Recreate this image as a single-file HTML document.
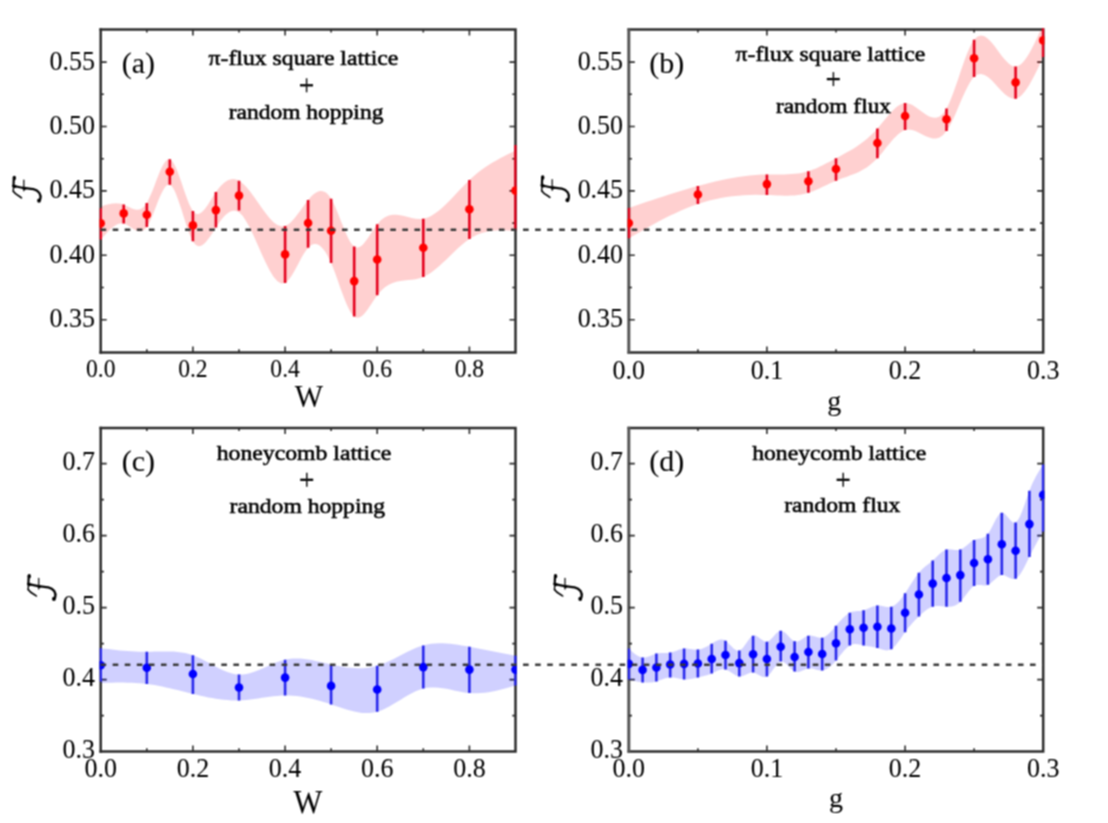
<!DOCTYPE html>
<html><head><meta charset="utf-8"><style>
html,body{margin:0;padding:0;background:#fff;}
body{width:1108px;height:823px;overflow:hidden;font-family:"Liberation Serif",serif;}
svg{display:block;} 
</style></head><body>
<div id="w"><svg width="1108" height="823" viewBox="0 0 1108 823"><defs><filter id="soft" filterUnits="userSpaceOnUse" x="0" y="0" width="1108" height="823" color-interpolation-filters="sRGB"><feConvolveMatrix order="3" kernelMatrix="0.0676 0.1248 0.0676 0.1248 0.2304 0.1248 0.0676 0.1248 0.0676" edgeMode="duplicate"/></filter></defs><g filter="url(#soft)"><defs><clipPath id="clipa"><rect x="100.7" y="29.4" width="414.8" height="323.0"/></clipPath><clipPath id="clipxa"><rect x="99.5" y="28.2" width="417.2" height="325.4"/></clipPath><clipPath id="clipb"><rect x="628.8" y="29.4" width="414.4000000000001" height="323.0"/></clipPath><clipPath id="clipxb"><rect x="627.5999999999999" y="28.2" width="416.80000000000007" height="325.4"/></clipPath><clipPath id="clipc"><rect x="100.7" y="427.9" width="414.8" height="323.6"/></clipPath><clipPath id="clipxc"><rect x="99.5" y="426.7" width="417.2" height="326.0"/></clipPath><clipPath id="clipd"><rect x="628.8" y="427.9" width="414.4000000000001" height="323.6"/></clipPath><clipPath id="clipxd"><rect x="627.5999999999999" y="426.7" width="416.80000000000007" height="326.0"/></clipPath></defs><rect width="1108" height="823" fill="#fff"/><path d="M99.45,29.4H516.75M515.5,29.4V352.4M516.75,352.4H99.45" fill="none" stroke="#2c2c2c" stroke-width="2.5"/><path d="M100.7,28.15V353.65" fill="none" stroke="#2c2c2c" stroke-width="2.5"/><path d="M100.7,319.7h6M515.5,319.7h-6M100.7,255.3h6M515.5,255.3h-6M100.7,190.9h6M515.5,190.9h-6M100.7,126.5h6M515.5,126.5h-6M100.7,62.1h6M515.5,62.1h-6M100.7,287.5h3.2M515.5,287.5h-3.2M100.7,223.1h3.2M515.5,223.1h-3.2M100.7,158.7h3.2M515.5,158.7h-3.2M100.7,94.3h3.2M515.5,94.3h-3.2M192.9,352.4v-6M192.9,29.4v6M285.1,352.4v-6M285.1,29.4v6M377.2,352.4v-6M377.2,29.4v6M469.4,352.4v-6M469.4,29.4v6M146.8,352.4v-3.2M146.8,29.4v3.2M239.0,352.4v-3.2M239.0,29.4v3.2M331.1,352.4v-3.2M331.1,29.4v3.2M423.3,352.4v-3.2M423.3,29.4v3.2" stroke="#2c2c2c" stroke-width="1.6" fill="none"/><path d="M627.55,29.4H1044.45M1043.2,29.4V352.4M1044.45,352.4H627.55" fill="none" stroke="#2c2c2c" stroke-width="2.5"/><path d="M628.8,28.15V353.65" fill="none" stroke="#555" stroke-width="3.0"/><path d="M628.8,319.7h6M1043.2,319.7h-6M628.8,255.3h6M1043.2,255.3h-6M628.8,190.9h6M1043.2,190.9h-6M628.8,126.5h6M1043.2,126.5h-6M628.8,62.1h6M1043.2,62.1h-6M628.8,287.5h3.2M1043.2,287.5h-3.2M628.8,223.1h3.2M1043.2,223.1h-3.2M628.8,158.7h3.2M1043.2,158.7h-3.2M628.8,94.3h3.2M1043.2,94.3h-3.2M766.9,352.4v-6M766.9,29.4v6M905.1,352.4v-6M905.1,29.4v6M697.9,352.4v-3.2M697.9,29.4v3.2M836.0,352.4v-3.2M836.0,29.4v3.2M974.1,352.4v-3.2M974.1,29.4v3.2" stroke="#2c2c2c" stroke-width="1.6" fill="none"/><path d="M99.45,427.9H516.75M515.5,427.9V751.5M516.75,751.5H99.45" fill="none" stroke="#2c2c2c" stroke-width="2.5"/><path d="M100.7,426.65V752.75" fill="none" stroke="#2c2c2c" stroke-width="2.5"/><path d="M100.7,679.6h6M515.5,679.6h-6M100.7,607.6h6M515.5,607.6h-6M100.7,535.6h6M515.5,535.6h-6M100.7,463.6h6M515.5,463.6h-6M100.7,715.6h3.2M515.5,715.6h-3.2M100.7,643.6h3.2M515.5,643.6h-3.2M100.7,571.6h3.2M515.5,571.6h-3.2M100.7,499.6h3.2M515.5,499.6h-3.2M192.9,751.5v-6M192.9,427.9v6M285.1,751.5v-6M285.1,427.9v6M377.2,751.5v-6M377.2,427.9v6M469.4,751.5v-6M469.4,427.9v6M146.8,751.5v-3.2M146.8,427.9v3.2M239.0,751.5v-3.2M239.0,427.9v3.2M331.1,751.5v-3.2M331.1,427.9v3.2M423.3,751.5v-3.2M423.3,427.9v3.2" stroke="#2c2c2c" stroke-width="1.6" fill="none"/><path d="M627.55,427.9H1044.45M1043.2,427.9V751.5M1044.45,751.5H627.55" fill="none" stroke="#2c2c2c" stroke-width="2.5"/><path d="M628.8,426.65V752.75" fill="none" stroke="#555" stroke-width="3.0"/><path d="M628.8,679.6h6M1043.2,679.6h-6M628.8,607.6h6M1043.2,607.6h-6M628.8,535.6h6M1043.2,535.6h-6M628.8,463.6h6M1043.2,463.6h-6M628.8,715.6h3.2M1043.2,715.6h-3.2M628.8,643.6h3.2M1043.2,643.6h-3.2M628.8,571.6h3.2M1043.2,571.6h-3.2M628.8,499.6h3.2M1043.2,499.6h-3.2M766.9,751.5v-6M766.9,427.9v6M905.1,751.5v-6M905.1,427.9v6M697.9,751.5v-3.2M697.9,427.9v3.2M836.0,751.5v-3.2M836.0,427.9v3.2M974.1,751.5v-3.2M974.1,427.9v3.2" stroke="#2c2c2c" stroke-width="1.6" fill="none"/><path clip-path="url(#clipa)" d="M100.7,206.5 L102.6,205.9 L104.5,205.3 L106.5,204.8 L108.4,204.3 L110.3,203.9 L112.2,203.6 L114.1,203.4 L116.1,203.3 L118.0,203.4 L119.9,203.6 L121.8,204.0 L123.7,204.6 L125.7,205.4 L127.6,206.4 L129.5,207.3 L131.4,208.3 L133.3,209.0 L135.3,209.6 L137.2,209.8 L139.1,209.6 L141.0,208.9 L142.9,207.6 L144.9,205.7 L146.8,202.9 L148.7,199.3 L150.6,195.1 L152.6,190.4 L154.5,185.4 L156.4,180.3 L158.3,175.4 L160.2,170.7 L162.2,166.6 L164.1,163.2 L166.0,160.7 L167.9,159.4 L169.8,159.3 L171.8,160.7 L173.7,163.3 L175.6,167.0 L177.5,171.5 L179.4,176.7 L181.4,182.2 L183.3,187.9 L185.2,193.5 L187.1,198.8 L189.0,203.7 L191.0,207.8 L192.9,210.9 L194.8,212.9 L196.7,213.9 L198.6,213.9 L200.6,213.1 L202.5,211.6 L204.4,209.5 L206.3,207.0 L208.2,204.2 L210.2,201.1 L212.1,198.0 L214.0,194.9 L215.9,192.0 L217.8,189.4 L219.8,187.0 L221.7,184.9 L223.6,183.2 L225.5,181.7 L227.4,180.6 L229.4,179.8 L231.3,179.3 L233.2,179.1 L235.1,179.3 L237.0,179.8 L239.0,180.7 L242.8,183.4 L246.6,187.3 L250.5,192.0 L254.3,197.2 L258.2,202.8 L262.0,208.3 L265.9,213.6 L269.7,218.3 L273.5,222.2 L277.4,224.9 L281.2,226.3 L285.1,226.0 L287.0,225.1 L288.9,223.9 L290.8,222.2 L292.7,220.2 L294.7,218.0 L296.6,215.6 L298.5,213.0 L300.4,210.4 L302.3,207.7 L304.3,205.0 L306.2,202.4 L308.1,200.0 L310.0,197.8 L311.9,195.8 L313.9,194.1 L315.8,192.7 L317.7,191.7 L319.6,191.1 L321.5,191.0 L323.5,191.4 L325.4,192.3 L327.3,193.8 L329.2,195.9 L331.1,198.7 L333.1,202.2 L335.0,206.2 L336.9,210.7 L338.8,215.5 L340.7,220.4 L342.7,225.3 L344.6,230.0 L346.5,234.5 L348.4,238.5 L350.3,242.0 L352.3,244.7 L354.2,246.6 L356.1,247.5 L358.0,247.6 L360.0,246.8 L361.9,245.4 L363.8,243.5 L365.7,241.1 L367.6,238.4 L369.6,235.5 L371.5,232.5 L373.4,229.6 L375.3,226.8 L377.2,224.2 L381.1,220.1 L384.9,217.3 L388.8,215.6 L392.6,214.8 L396.4,214.8 L400.3,215.3 L404.1,216.1 L408.0,217.0 L411.8,218.0 L415.6,218.7 L419.5,219.0 L423.3,218.7 L427.2,217.7 L431.0,215.9 L434.8,213.6 L438.7,210.7 L442.5,207.4 L446.4,203.8 L450.2,199.9 L454.0,195.9 L457.9,191.8 L461.7,187.7 L465.6,183.8 L469.4,180.0 L473.3,176.5 L477.1,173.3 L480.9,170.3 L484.8,167.6 L488.6,165.0 L492.5,162.6 L496.3,160.4 L500.1,158.3 L504.0,156.2 L507.8,154.3 L511.7,152.4 L515.5,150.5 L515.5,231.0 L511.7,230.7 L507.8,230.5 L504.0,230.4 L500.1,230.3 L496.3,230.5 L492.5,230.8 L488.6,231.3 L484.8,232.2 L480.9,233.3 L477.1,234.8 L473.3,236.7 L469.4,239.0 L465.6,241.8 L461.7,244.9 L457.9,248.3 L454.0,251.9 L450.2,255.7 L446.4,259.4 L442.5,263.0 L438.7,266.5 L434.8,269.8 L431.0,272.7 L427.2,275.1 L423.3,277.0 L419.5,278.3 L415.6,279.2 L411.8,279.7 L408.0,280.1 L404.1,280.4 L400.3,280.9 L396.4,281.7 L392.6,282.9 L388.8,284.7 L384.9,287.3 L381.1,290.7 L377.2,295.2 L375.3,297.9 L373.4,300.7 L371.5,303.7 L369.6,306.6 L367.6,309.4 L365.7,311.9 L363.8,314.2 L361.9,315.9 L360.0,317.2 L358.0,317.7 L356.1,317.6 L354.2,316.5 L352.3,314.5 L350.3,311.7 L348.4,308.1 L346.5,303.9 L344.6,299.2 L342.7,294.2 L340.7,288.9 L338.8,283.5 L336.9,278.1 L335.0,272.8 L333.1,267.8 L331.1,263.1 L329.2,258.9 L327.3,255.2 L325.4,252.0 L323.5,249.4 L321.5,247.2 L319.6,245.6 L317.7,244.6 L315.8,244.1 L313.9,244.1 L311.9,244.8 L310.0,246.0 L308.1,247.8 L306.2,250.2 L304.3,253.1 L302.3,256.3 L300.4,259.8 L298.5,263.4 L296.6,267.1 L294.7,270.6 L292.7,274.0 L290.8,277.0 L288.9,279.6 L287.0,281.6 L285.1,283.0 L281.2,283.5 L277.4,281.3 L273.5,276.8 L269.7,270.6 L265.9,263.1 L262.0,254.7 L258.2,245.9 L254.3,237.2 L250.5,229.1 L246.6,221.9 L242.8,216.1 L239.0,212.3 L237.0,211.2 L235.1,210.7 L233.2,210.7 L231.3,211.2 L229.4,212.1 L227.4,213.4 L225.5,215.0 L223.6,217.0 L221.7,219.3 L219.8,221.8 L217.8,224.5 L215.9,227.4 L214.0,230.4 L212.1,233.4 L210.2,236.4 L208.2,239.1 L206.3,241.6 L204.4,243.6 L202.5,245.1 L200.6,246.0 L198.6,246.2 L196.7,245.6 L194.8,244.0 L192.9,241.3 L191.0,237.5 L189.0,232.9 L187.1,227.5 L185.2,221.6 L183.3,215.5 L181.4,209.3 L179.4,203.4 L177.5,197.9 L175.6,193.0 L173.7,189.1 L171.8,186.2 L169.8,184.7 L167.9,184.7 L166.0,186.0 L164.1,188.5 L162.2,191.9 L160.2,196.0 L158.3,200.6 L156.4,205.5 L154.5,210.5 L152.6,215.3 L150.6,219.9 L148.7,223.8 L146.8,227.0 L144.9,229.3 L142.9,230.7 L141.0,231.3 L139.1,231.4 L137.2,230.9 L135.3,230.1 L133.3,229.0 L131.4,227.7 L129.5,226.4 L127.6,225.2 L125.7,224.3 L123.7,223.6 L121.8,223.4 L119.9,223.6 L118.0,224.1 L116.1,225.0 L114.1,226.2 L112.2,227.7 L110.3,229.3 L108.4,231.2 L106.5,233.2 L104.5,235.4 L102.6,237.6 L100.7,239.8 Z" fill="#FF0000" fill-opacity="0.185"/><path clip-path="url(#clipb)" d="M628.8,208.0 L634.6,206.0 L640.3,204.1 L646.1,202.1 L651.8,200.2 L657.6,198.2 L663.3,196.4 L669.1,194.5 L674.8,192.7 L680.6,190.9 L686.4,189.2 L692.1,187.5 L697.9,185.9 L703.6,184.4 L709.4,182.9 L715.1,181.5 L720.9,180.2 L726.6,179.0 L732.4,177.9 L738.2,177.0 L743.9,176.2 L749.7,175.5 L755.4,175.0 L761.2,174.6 L766.9,174.4 L770.4,174.4 L773.8,174.4 L777.3,174.4 L780.7,174.4 L784.2,174.4 L787.7,174.3 L791.1,174.1 L794.6,173.8 L798.0,173.4 L801.5,172.9 L804.9,172.1 L808.4,171.2 L810.7,170.4 L813.0,169.6 L815.3,168.7 L817.6,167.7 L819.9,166.6 L822.2,165.5 L824.5,164.3 L826.8,163.1 L829.1,161.9 L831.4,160.7 L833.7,159.4 L836.0,158.2 L839.5,156.4 L842.9,154.5 L846.4,152.6 L849.8,150.7 L853.3,148.7 L856.7,146.5 L860.2,144.1 L863.6,141.5 L867.1,138.7 L870.5,135.6 L874.0,132.2 L877.4,128.5 L879.7,125.8 L882.0,123.0 L884.3,120.2 L886.6,117.4 L889.0,114.6 L891.3,112.0 L893.6,109.7 L895.9,107.5 L898.2,105.8 L900.5,104.4 L902.8,103.4 L905.1,103.0 L908.5,103.4 L912.0,104.8 L915.4,106.9 L918.9,109.4 L922.3,112.0 L925.8,114.5 L929.2,116.4 L932.7,117.6 L936.1,117.7 L939.6,116.4 L943.1,113.4 L946.5,108.4 L948.8,103.9 L951.1,98.5 L953.4,92.6 L955.7,86.1 L958.0,79.4 L960.3,72.5 L962.6,65.8 L964.9,59.3 L967.2,53.3 L969.5,47.9 L971.8,43.3 L974.1,39.7 L977.6,36.4 L981.0,35.4 L984.5,36.3 L987.9,38.8 L991.4,42.3 L994.9,46.6 L998.3,51.3 L1001.8,55.9 L1005.2,60.1 L1008.7,63.6 L1012.1,65.9 L1015.6,66.6 L1017.9,66.1 L1020.2,64.8 L1022.5,62.7 L1024.8,60.0 L1027.1,56.8 L1029.4,53.0 L1031.7,48.8 L1034.0,44.3 L1036.3,39.5 L1038.6,34.4 L1040.9,29.3 L1043.2,24.0 L1043.2,57.0 L1040.9,62.0 L1038.6,66.9 L1036.3,71.7 L1034.0,76.3 L1031.7,80.6 L1029.4,84.7 L1027.1,88.3 L1024.8,91.5 L1022.5,94.2 L1020.2,96.4 L1017.9,97.9 L1015.6,98.7 L1012.1,98.6 L1008.7,97.1 L1005.2,94.5 L1001.8,91.2 L998.3,87.5 L994.9,83.7 L991.4,80.1 L987.9,77.0 L984.5,74.9 L981.0,73.9 L977.6,74.5 L974.1,76.9 L971.8,79.6 L969.5,83.2 L967.2,87.4 L964.9,92.2 L962.6,97.3 L960.3,102.6 L958.0,108.0 L955.7,113.4 L953.4,118.5 L951.1,123.3 L948.8,127.5 L946.5,131.1 L943.1,135.0 L939.6,137.4 L936.1,138.4 L932.7,138.4 L929.2,137.6 L925.8,136.2 L922.3,134.5 L918.9,132.7 L915.4,131.1 L912.0,130.0 L908.5,129.5 L905.1,130.0 L902.8,131.0 L900.5,132.4 L898.2,134.2 L895.9,136.4 L893.6,138.8 L891.3,141.4 L889.0,144.2 L886.6,147.1 L884.3,150.0 L882.0,152.9 L879.7,155.6 L877.4,158.2 L874.0,161.6 L870.5,164.6 L867.1,167.2 L863.6,169.3 L860.2,171.2 L856.7,172.9 L853.3,174.3 L849.8,175.6 L846.4,176.9 L842.9,178.1 L839.5,179.3 L836.0,180.7 L833.7,181.7 L831.4,182.7 L829.1,183.8 L826.8,184.9 L824.5,186.0 L822.2,187.1 L819.9,188.2 L817.6,189.2 L815.3,190.2 L813.0,191.2 L810.7,192.0 L808.4,192.8 L804.9,193.8 L801.5,194.5 L798.0,195.0 L794.6,195.4 L791.1,195.6 L787.7,195.7 L784.2,195.7 L780.7,195.6 L777.3,195.5 L773.8,195.3 L770.4,195.1 L766.9,195.0 L761.2,194.9 L755.4,194.8 L749.7,195.0 L743.9,195.2 L738.2,195.7 L732.4,196.3 L726.6,197.1 L720.9,198.1 L715.1,199.2 L709.4,200.6 L703.6,202.2 L697.9,204.0 L692.1,206.0 L686.4,208.3 L680.6,210.7 L674.8,213.4 L669.1,216.1 L663.3,219.1 L657.6,222.1 L651.8,225.2 L646.1,228.4 L640.3,231.7 L634.6,235.0 L628.8,238.3 Z" fill="#FF0000" fill-opacity="0.185"/><path clip-path="url(#clipc)" d="M100.7,648.2 L104.5,648.7 L108.4,649.1 L112.2,649.5 L116.1,650.0 L119.9,650.4 L123.7,650.7 L127.6,651.0 L131.4,651.3 L135.3,651.5 L139.1,651.7 L142.9,651.8 L146.8,651.8 L150.6,651.7 L154.5,651.6 L158.3,651.5 L162.2,651.4 L166.0,651.4 L169.8,651.4 L173.7,651.6 L177.5,651.9 L181.4,652.4 L185.2,653.1 L189.0,654.1 L192.9,655.3 L196.7,656.8 L200.6,658.6 L204.4,660.6 L208.2,662.6 L212.1,664.7 L215.9,666.8 L219.8,668.8 L223.6,670.6 L227.4,672.1 L231.3,673.3 L235.1,674.2 L239.0,674.6 L242.8,674.5 L246.6,674.0 L250.5,673.0 L254.3,671.8 L258.2,670.3 L262.0,668.7 L265.9,667.0 L269.7,665.3 L273.5,663.6 L277.4,662.1 L281.2,660.8 L285.1,659.7 L288.9,659.0 L292.7,658.6 L296.6,658.5 L300.4,658.6 L304.3,658.9 L308.1,659.4 L311.9,660.1 L315.8,660.9 L319.6,661.8 L323.5,662.7 L327.3,663.6 L331.1,664.5 L335.0,665.4 L338.8,666.1 L342.7,666.8 L346.5,667.4 L350.3,667.8 L354.2,668.1 L358.0,668.3 L361.9,668.2 L365.7,667.9 L369.6,667.4 L373.4,666.7 L377.2,665.7 L381.1,664.4 L384.9,662.9 L388.8,661.2 L392.6,659.4 L396.4,657.4 L400.3,655.4 L404.1,653.5 L408.0,651.6 L411.8,649.7 L415.6,648.1 L419.5,646.6 L423.3,645.4 L427.2,644.5 L431.0,643.8 L434.8,643.4 L438.7,643.2 L442.5,643.2 L446.4,643.4 L450.2,643.7 L454.0,644.2 L457.9,644.8 L461.7,645.4 L465.6,646.1 L469.4,646.8 L473.3,647.5 L477.1,648.3 L480.9,649.0 L484.8,649.7 L488.6,650.5 L492.5,651.2 L496.3,652.0 L500.1,652.7 L504.0,653.5 L507.8,654.2 L511.7,655.0 L515.5,655.7 L515.5,685.5 L511.7,686.6 L507.8,687.7 L504.0,688.8 L500.1,689.8 L496.3,690.7 L492.5,691.5 L488.6,692.2 L484.8,692.7 L480.9,693.1 L477.1,693.3 L473.3,693.3 L469.4,693.1 L465.6,692.7 L461.7,692.0 L457.9,691.3 L454.0,690.4 L450.2,689.6 L446.4,688.8 L442.5,688.2 L438.7,687.7 L434.8,687.4 L431.0,687.4 L427.2,687.7 L423.3,688.5 L419.5,689.7 L415.6,691.3 L411.8,693.2 L408.0,695.3 L404.1,697.6 L400.3,700.0 L396.4,702.3 L392.6,704.6 L388.8,706.8 L384.9,708.8 L381.1,710.4 L377.2,711.7 L373.4,712.6 L369.6,713.0 L365.7,713.1 L361.9,712.9 L358.0,712.3 L354.2,711.6 L350.3,710.6 L346.5,709.5 L342.7,708.3 L338.8,707.0 L335.0,705.7 L331.1,704.4 L327.3,703.1 L323.5,701.9 L319.6,700.8 L315.8,699.8 L311.9,698.8 L308.1,698.0 L304.3,697.2 L300.4,696.6 L296.6,696.1 L292.7,695.7 L288.9,695.5 L285.1,695.5 L281.2,695.6 L277.4,695.9 L273.5,696.3 L269.7,696.7 L265.9,697.3 L262.0,697.8 L258.2,698.4 L254.3,698.9 L250.5,699.4 L246.6,699.9 L242.8,700.2 L239.0,700.4 L235.1,700.4 L231.3,700.4 L227.4,700.1 L223.6,699.8 L219.8,699.3 L215.9,698.7 L212.1,698.1 L208.2,697.4 L204.4,696.6 L200.6,695.7 L196.7,694.8 L192.9,693.9 L189.0,693.0 L185.2,692.0 L181.4,691.0 L177.5,690.1 L173.7,689.2 L169.8,688.3 L166.0,687.4 L162.2,686.6 L158.3,685.8 L154.5,685.1 L150.6,684.5 L146.8,684.0 L142.9,683.6 L139.1,683.2 L135.3,683.0 L131.4,682.8 L127.6,682.7 L123.7,682.6 L119.9,682.6 L116.1,682.6 L112.2,682.7 L108.4,682.8 L104.5,682.9 L100.7,683.0 Z" fill="#0000FF" fill-opacity="0.185"/><path clip-path="url(#clipd)" d="M628.8,648.6 L630.0,649.7 L631.1,650.7 L632.3,651.7 L633.4,652.7 L634.6,653.7 L635.7,654.5 L636.9,655.3 L638.0,656.0 L639.2,656.6 L640.3,657.1 L641.5,657.4 L642.6,657.6 L643.8,657.6 L644.9,657.5 L646.1,657.3 L647.2,657.0 L648.4,656.6 L649.5,656.2 L650.7,655.7 L651.8,655.3 L653.0,654.8 L654.1,654.3 L655.3,653.9 L656.4,653.6 L657.6,653.4 L658.7,653.2 L659.9,653.1 L661.0,653.0 L662.2,653.0 L663.3,653.0 L664.5,653.0 L665.6,653.0 L666.8,653.0 L667.9,652.9 L669.1,652.8 L670.2,652.6 L671.4,652.4 L672.5,652.0 L673.7,651.7 L674.8,651.3 L676.0,650.9 L677.1,650.4 L678.3,650.0 L679.4,649.6 L680.6,649.3 L681.8,649.0 L682.9,648.8 L684.1,648.6 L685.2,648.5 L686.4,648.6 L687.5,648.6 L688.7,648.8 L689.8,648.9 L691.0,649.1 L692.1,649.3 L693.3,649.4 L694.4,649.6 L695.6,649.6 L696.7,649.7 L697.9,649.6 L699.0,649.5 L700.2,649.2 L701.3,648.9 L702.5,648.5 L703.6,648.1 L704.8,647.6 L705.9,647.0 L707.1,646.4 L708.2,645.8 L709.4,645.1 L710.5,644.4 L711.7,643.7 L712.8,643.0 L714.0,642.3 L715.1,641.6 L716.3,641.0 L717.4,640.5 L718.6,640.1 L719.7,639.8 L720.9,639.6 L722.0,639.6 L723.2,639.7 L724.3,640.1 L725.5,640.7 L726.6,641.5 L727.8,642.5 L728.9,643.7 L730.1,644.9 L731.2,646.1 L732.4,647.3 L733.6,648.4 L734.7,649.3 L735.9,650.1 L737.0,650.6 L738.2,650.8 L739.3,650.6 L740.5,650.0 L741.6,649.1 L742.8,647.9 L743.9,646.4 L745.1,644.8 L746.2,643.2 L747.4,641.5 L748.5,640.0 L749.7,638.5 L750.8,637.3 L752.0,636.3 L753.1,635.7 L754.3,635.5 L755.4,635.6 L756.6,636.0 L757.7,636.7 L758.9,637.5 L760.0,638.4 L761.2,639.3 L762.3,640.1 L763.5,640.8 L764.6,641.4 L765.8,641.7 L766.9,641.7 L768.1,641.3 L769.2,640.7 L770.4,639.7 L771.5,638.6 L772.7,637.4 L773.8,636.1 L775.0,634.8 L776.1,633.6 L777.3,632.5 L778.4,631.7 L779.6,631.1 L780.7,630.8 L781.9,630.9 L783.0,631.4 L784.2,632.1 L785.4,633.0 L786.5,634.1 L787.7,635.3 L788.8,636.6 L790.0,637.8 L791.1,639.0 L792.3,640.0 L793.4,640.8 L794.6,641.3 L795.7,641.5 L796.9,641.5 L798.0,641.2 L799.2,640.8 L800.3,640.2 L801.5,639.5 L802.6,638.7 L803.8,638.0 L804.9,637.3 L806.1,636.6 L807.2,636.1 L808.4,635.7 L809.5,635.5 L810.7,635.5 L811.8,635.7 L813.0,635.9 L814.1,636.2 L815.3,636.6 L816.4,637.0 L817.6,637.3 L818.7,637.6 L819.9,637.8 L821.0,637.8 L822.2,637.7 L823.3,637.4 L824.5,636.9 L825.6,636.3 L826.8,635.5 L827.9,634.5 L829.1,633.5 L830.2,632.4 L831.4,631.1 L832.5,629.9 L833.7,628.5 L834.8,627.2 L836.0,625.8 L837.2,624.4 L838.3,623.1 L839.5,621.7 L840.6,620.5 L841.8,619.2 L842.9,618.0 L844.1,616.9 L845.2,615.9 L846.4,614.9 L847.5,614.1 L848.7,613.3 L849.8,612.7 L851.0,612.2 L852.1,611.8 L853.3,611.6 L854.4,611.4 L855.6,611.2 L856.7,611.1 L857.9,611.0 L859.0,611.0 L860.2,610.9 L861.3,610.7 L862.5,610.6 L863.6,610.3 L864.8,610.0 L865.9,609.6 L867.1,609.1 L868.2,608.6 L869.4,608.1 L870.5,607.6 L871.7,607.1 L872.8,606.6 L874.0,606.2 L875.1,605.9 L876.3,605.6 L877.4,605.5 L878.6,605.5 L879.7,605.6 L880.9,605.7 L882.0,606.0 L883.2,606.2 L884.3,606.5 L885.5,606.7 L886.6,606.9 L887.8,607.0 L889.0,607.0 L890.1,606.9 L891.3,606.7 L892.4,606.3 L893.6,605.7 L894.7,605.0 L895.9,604.2 L897.0,603.2 L898.2,602.1 L899.3,600.9 L900.5,599.5 L901.6,598.1 L902.8,596.6 L903.9,595.0 L905.1,593.3 L906.2,591.6 L907.4,589.8 L908.5,588.0 L909.7,586.1 L910.8,584.3 L912.0,582.5 L913.1,580.7 L914.3,579.0 L915.4,577.3 L916.6,575.7 L917.7,574.1 L918.9,572.7 L920.0,571.4 L921.2,570.2 L922.3,569.1 L923.5,568.0 L924.6,567.0 L925.8,566.1 L926.9,565.2 L928.1,564.3 L929.2,563.4 L930.4,562.4 L931.5,561.5 L932.7,560.5 L933.8,559.5 L935.0,558.4 L936.1,557.3 L937.3,556.2 L938.4,555.1 L939.6,554.0 L940.8,553.0 L941.9,552.1 L943.1,551.3 L944.2,550.6 L945.4,550.0 L946.5,549.6 L947.7,549.4 L948.8,549.3 L950.0,549.3 L951.1,549.4 L952.3,549.5 L953.4,549.7 L954.6,549.9 L955.7,550.0 L956.9,550.1 L958.0,550.1 L959.2,549.9 L960.3,549.6 L961.5,549.1 L962.6,548.5 L963.8,547.7 L964.9,546.8 L966.1,545.9 L967.2,544.9 L968.4,543.9 L969.5,543.0 L970.7,542.0 L971.8,541.2 L973.0,540.5 L974.1,539.9 L975.3,539.5 L976.4,539.2 L977.6,539.0 L978.7,538.8 L979.9,538.6 L981.0,538.4 L982.2,538.1 L983.3,537.6 L984.5,537.0 L985.6,536.2 L986.8,535.2 L987.9,533.8 L989.1,532.1 L990.2,530.2 L991.4,528.0 L992.6,525.8 L993.7,523.5 L994.9,521.2 L996.0,519.1 L997.2,517.2 L998.3,515.5 L999.5,514.1 L1000.6,513.2 L1001.8,512.7 L1002.9,512.8 L1004.1,513.3 L1005.2,514.2 L1006.4,515.4 L1007.5,516.7 L1008.7,518.1 L1009.8,519.5 L1011.0,520.7 L1012.1,521.7 L1013.3,522.4 L1014.4,522.7 L1015.6,522.4 L1016.7,521.5 L1017.9,520.1 L1019.0,518.2 L1020.2,515.9 L1021.3,513.2 L1022.5,510.3 L1023.6,507.2 L1024.8,503.9 L1025.9,500.5 L1027.1,497.2 L1028.2,493.9 L1029.4,490.8 L1030.5,487.9 L1031.7,485.1 L1032.8,482.6 L1034.0,480.2 L1035.1,477.9 L1036.3,475.8 L1037.4,473.8 L1038.6,471.8 L1039.7,470.0 L1040.9,468.1 L1042.0,466.4 L1043.2,464.6 L1043.2,531.4 L1042.0,533.4 L1040.9,535.5 L1039.7,537.5 L1038.6,539.6 L1037.4,541.6 L1036.3,543.7 L1035.1,545.8 L1034.0,548.0 L1032.8,550.1 L1031.7,552.4 L1030.5,554.6 L1029.4,556.9 L1028.2,559.2 L1027.1,561.6 L1025.9,563.9 L1024.8,566.2 L1023.6,568.4 L1022.5,570.5 L1021.3,572.4 L1020.2,574.2 L1019.0,575.7 L1017.9,577.0 L1016.7,578.0 L1015.6,578.7 L1014.4,579.1 L1013.3,579.1 L1012.1,579.0 L1011.0,578.6 L1009.8,578.1 L1008.7,577.5 L1007.5,576.9 L1006.4,576.3 L1005.2,575.7 L1004.1,575.3 L1002.9,575.1 L1001.8,575.1 L1000.6,575.4 L999.5,575.9 L998.3,576.6 L997.2,577.4 L996.0,578.4 L994.9,579.4 L993.7,580.5 L992.6,581.5 L991.4,582.5 L990.2,583.4 L989.1,584.2 L987.9,584.8 L986.8,585.2 L985.6,585.4 L984.5,585.4 L983.3,585.4 L982.2,585.3 L981.0,585.1 L979.9,585.0 L978.7,585.0 L977.6,585.0 L976.4,585.1 L975.3,585.5 L974.1,586.0 L973.0,586.8 L971.8,587.8 L970.7,588.9 L969.5,590.2 L968.4,591.7 L967.2,593.2 L966.1,594.7 L964.9,596.2 L963.8,597.8 L962.6,599.2 L961.5,600.6 L960.3,601.8 L959.2,602.9 L958.0,603.8 L956.9,604.5 L955.7,605.2 L954.6,605.7 L953.4,606.1 L952.3,606.4 L951.1,606.6 L950.0,606.7 L948.8,606.7 L947.7,606.7 L946.5,606.7 L945.4,606.6 L944.2,606.5 L943.1,606.4 L941.9,606.3 L940.8,606.2 L939.6,606.1 L938.4,606.0 L937.3,606.0 L936.1,606.1 L935.0,606.2 L933.8,606.4 L932.7,606.7 L931.5,607.1 L930.4,607.6 L929.2,608.2 L928.1,608.8 L926.9,609.6 L925.8,610.4 L924.6,611.3 L923.5,612.2 L922.3,613.2 L921.2,614.2 L920.0,615.3 L918.9,616.4 L917.7,617.5 L916.6,618.7 L915.4,619.8 L914.3,621.0 L913.1,622.3 L912.0,623.5 L910.8,624.9 L909.7,626.2 L908.5,627.6 L907.4,629.1 L906.2,630.6 L905.1,632.2 L903.9,633.8 L902.8,635.5 L901.6,637.2 L900.5,638.9 L899.3,640.5 L898.2,642.1 L897.0,643.6 L895.9,645.0 L894.7,646.3 L893.6,647.5 L892.4,648.4 L891.3,649.2 L890.1,649.8 L889.0,650.1 L887.8,650.3 L886.6,650.4 L885.5,650.3 L884.3,650.1 L883.2,649.8 L882.0,649.5 L880.9,649.1 L879.7,648.7 L878.6,648.4 L877.4,648.0 L876.3,647.7 L875.1,647.4 L874.0,647.2 L872.8,647.0 L871.7,646.8 L870.5,646.6 L869.4,646.4 L868.2,646.3 L867.1,646.1 L865.9,645.9 L864.8,645.7 L863.6,645.5 L862.5,645.3 L861.3,645.0 L860.2,644.7 L859.0,644.5 L857.9,644.3 L856.7,644.2 L855.6,644.1 L854.4,644.1 L853.3,644.3 L852.1,644.5 L851.0,644.9 L849.8,645.5 L848.7,646.2 L847.5,647.2 L846.4,648.2 L845.2,649.4 L844.1,650.6 L842.9,652.0 L841.8,653.4 L840.6,654.8 L839.5,656.3 L838.3,657.8 L837.2,659.2 L836.0,660.6 L834.8,661.9 L833.7,663.2 L832.5,664.4 L831.4,665.5 L830.2,666.5 L829.1,667.4 L827.9,668.3 L826.8,669.0 L825.6,669.5 L824.5,670.0 L823.3,670.3 L822.2,670.5 L821.0,670.5 L819.9,670.5 L818.7,670.3 L817.6,670.0 L816.4,669.7 L815.3,669.4 L814.1,669.1 L813.0,668.8 L811.8,668.6 L810.7,668.4 L809.5,668.4 L808.4,668.5 L807.2,668.7 L806.1,669.1 L804.9,669.6 L803.8,670.1 L802.6,670.6 L801.5,671.1 L800.3,671.5 L799.2,671.8 L798.0,672.0 L796.9,672.1 L795.7,671.9 L794.6,671.5 L793.4,670.8 L792.3,669.9 L791.1,668.9 L790.0,667.7 L788.8,666.5 L787.7,665.3 L786.5,664.2 L785.4,663.2 L784.2,662.4 L783.0,661.8 L781.9,661.5 L780.7,661.6 L779.6,662.1 L778.4,662.9 L777.3,664.1 L776.1,665.4 L775.0,666.9 L773.8,668.5 L772.7,670.1 L771.5,671.7 L770.4,673.2 L769.2,674.6 L768.1,675.7 L766.9,676.5 L765.8,677.0 L764.6,677.1 L763.5,677.0 L762.3,676.7 L761.2,676.3 L760.0,675.7 L758.9,675.0 L757.7,674.4 L756.6,673.7 L755.4,673.2 L754.3,672.7 L753.1,672.5 L752.0,672.5 L750.8,672.6 L749.7,672.9 L748.5,673.4 L747.4,673.9 L746.2,674.4 L745.1,675.0 L743.9,675.5 L742.8,675.9 L741.6,676.3 L740.5,676.5 L739.3,676.5 L738.2,676.3 L737.0,676.0 L735.9,675.4 L734.7,674.8 L733.6,674.1 L732.4,673.3 L731.2,672.5 L730.1,671.8 L728.9,671.0 L727.8,670.4 L726.6,669.9 L725.5,669.5 L724.3,669.3 L723.2,669.3 L722.0,669.3 L720.9,669.6 L719.7,669.9 L718.6,670.3 L717.4,670.8 L716.3,671.3 L715.1,671.9 L714.0,672.4 L712.8,673.0 L711.7,673.5 L710.5,674.0 L709.4,674.4 L708.2,674.8 L707.1,675.2 L705.9,675.5 L704.8,675.8 L703.6,676.1 L702.5,676.4 L701.3,676.6 L700.2,676.9 L699.0,677.1 L697.9,677.4 L696.7,677.7 L695.6,677.9 L694.4,678.2 L693.3,678.5 L692.1,678.7 L691.0,678.9 L689.8,679.1 L688.7,679.3 L687.5,679.4 L686.4,679.4 L685.2,679.4 L684.1,679.4 L682.9,679.3 L681.8,679.1 L680.6,678.9 L679.4,678.7 L678.3,678.4 L677.1,678.2 L676.0,677.9 L674.8,677.7 L673.7,677.6 L672.5,677.4 L671.4,677.4 L670.2,677.4 L669.1,677.5 L667.9,677.7 L666.8,677.9 L665.6,678.3 L664.5,678.6 L663.3,679.0 L662.2,679.4 L661.0,679.8 L659.9,680.3 L658.7,680.7 L657.6,681.0 L656.4,681.4 L655.3,681.7 L654.1,682.0 L653.0,682.2 L651.8,682.4 L650.7,682.5 L649.5,682.6 L648.4,682.6 L647.2,682.7 L646.1,682.6 L644.9,682.6 L643.8,682.5 L642.6,682.4 L641.5,682.3 L640.3,682.1 L639.2,681.9 L638.0,681.7 L636.9,681.4 L635.7,681.2 L634.6,680.9 L633.4,680.6 L632.3,680.3 L631.1,680.0 L630.0,679.7 L628.8,679.4 Z" fill="#0000FF" fill-opacity="0.185"/><g clip-path="url(#clipxa)" fill="#FF0000" stroke="#FF0000"><line x1="100.7" y1="208.2" x2="100.7" y2="239.5" stroke-width="2.6" stroke="#E4001C"/><circle cx="100.7" cy="223.3" r="4.3" stroke="none"/><line x1="123.7" y1="204.6" x2="123.7" y2="223.6" stroke-width="2.6" stroke="#E4001C"/><circle cx="123.7" cy="213.4" r="4.3" stroke="none"/><line x1="146.8" y1="202.9" x2="146.8" y2="227.0" stroke-width="2.6" stroke="#E4001C"/><circle cx="146.8" cy="214.7" r="4.3" stroke="none"/><line x1="169.8" y1="159.3" x2="169.8" y2="184.7" stroke-width="2.6" stroke="#E4001C"/><circle cx="169.8" cy="171.8" r="4.3" stroke="none"/><line x1="192.9" y1="210.9" x2="192.9" y2="241.3" stroke-width="2.6" stroke="#E4001C"/><circle cx="192.9" cy="225.4" r="4.3" stroke="none"/><line x1="215.9" y1="192.0" x2="215.9" y2="227.4" stroke-width="2.6" stroke="#E4001C"/><circle cx="215.9" cy="210.1" r="4.3" stroke="none"/><line x1="239.0" y1="180.7" x2="239.0" y2="210.5" stroke-width="2.6" stroke="#E4001C"/><circle cx="239.0" cy="195.6" r="4.3" stroke="none"/><line x1="285.1" y1="226.0" x2="285.1" y2="283.0" stroke-width="2.6" stroke="#E4001C"/><circle cx="285.1" cy="254.4" r="4.3" stroke="none"/><line x1="308.1" y1="200.0" x2="308.1" y2="247.8" stroke-width="2.6" stroke="#E4001C"/><circle cx="308.1" cy="223.0" r="4.3" stroke="none"/><line x1="331.1" y1="198.7" x2="331.1" y2="263.1" stroke-width="2.6" stroke="#E4001C"/><circle cx="331.1" cy="230.8" r="4.3" stroke="none"/><line x1="354.2" y1="246.6" x2="354.2" y2="316.5" stroke-width="2.6" stroke="#E4001C"/><circle cx="354.2" cy="281.1" r="4.3" stroke="none"/><line x1="377.2" y1="224.2" x2="377.2" y2="295.2" stroke-width="2.6" stroke="#E4001C"/><circle cx="377.2" cy="259.5" r="4.3" stroke="none"/><line x1="423.3" y1="218.7" x2="423.3" y2="277.0" stroke-width="2.6" stroke="#E4001C"/><circle cx="423.3" cy="247.8" r="4.3" stroke="none"/><line x1="469.4" y1="180.0" x2="469.4" y2="239.0" stroke-width="2.6" stroke="#E4001C"/><circle cx="469.4" cy="209.3" r="4.3" stroke="none"/><line x1="515.5" y1="145.0" x2="515.5" y2="231.0" stroke-width="2.6" stroke="#E4001C"/><circle cx="515.5" cy="190.6" r="4.3" stroke="none"/></g><g clip-path="url(#clipxb)" fill="#FF0000" stroke="#FF0000"><line x1="628.8" y1="208" x2="628.8" y2="238.3" stroke-width="2.6" stroke="#E4001C"/><circle cx="628.8" cy="223.1" r="4.3" stroke="none"/><line x1="697.9" y1="185.9" x2="697.9" y2="204" stroke-width="2.6" stroke="#E4001C"/><circle cx="697.9" cy="194.5" r="4.3" stroke="none"/><line x1="766.9" y1="174.4" x2="766.9" y2="195" stroke-width="2.6" stroke="#E4001C"/><circle cx="766.9" cy="184.1" r="4.3" stroke="none"/><line x1="808.4" y1="171.2" x2="808.4" y2="192.8" stroke-width="2.6" stroke="#E4001C"/><circle cx="808.4" cy="181.3" r="4.3" stroke="none"/><line x1="836.0" y1="158.2" x2="836.0" y2="180.7" stroke-width="2.6" stroke="#E4001C"/><circle cx="836.0" cy="169" r="4.3" stroke="none"/><line x1="877.4" y1="128.5" x2="877.4" y2="158.2" stroke-width="2.6" stroke="#E4001C"/><circle cx="877.4" cy="143" r="4.3" stroke="none"/><line x1="905.1" y1="103" x2="905.1" y2="130" stroke-width="2.6" stroke="#E4001C"/><circle cx="905.1" cy="116" r="4.3" stroke="none"/><line x1="946.5" y1="108.4" x2="946.5" y2="131.1" stroke-width="2.6" stroke="#E4001C"/><circle cx="946.5" cy="119.2" r="4.3" stroke="none"/><line x1="974.1" y1="39.7" x2="974.1" y2="76.9" stroke-width="2.6" stroke="#E4001C"/><circle cx="974.1" cy="58.2" r="4.3" stroke="none"/><line x1="1015.6" y1="66.6" x2="1015.6" y2="98.7" stroke-width="2.6" stroke="#E4001C"/><circle cx="1015.6" cy="82.4" r="4.3" stroke="none"/><line x1="1043.2" y1="24" x2="1043.2" y2="57" stroke-width="2.6" stroke="#E4001C"/><circle cx="1043.2" cy="40.4" r="4.3" stroke="none"/></g><g clip-path="url(#clipxc)" fill="#0000FF" stroke="#0000FF"><line x1="100.7" y1="648.2" x2="100.7" y2="681.5" stroke-width="2.6" stroke="#2828EC"/><circle cx="100.7" cy="665.3" r="4.3" stroke="none"/><line x1="146.8" y1="651.8" x2="146.8" y2="684" stroke-width="2.6" stroke="#2828EC"/><circle cx="146.8" cy="667.7" r="4.3" stroke="none"/><line x1="192.9" y1="655.3" x2="192.9" y2="693.9" stroke-width="2.6" stroke="#2828EC"/><circle cx="192.9" cy="674" r="4.3" stroke="none"/><line x1="239.0" y1="674.6" x2="239.0" y2="700.4" stroke-width="2.6" stroke="#2828EC"/><circle cx="239.0" cy="687.5" r="4.3" stroke="none"/><line x1="285.1" y1="659.7" x2="285.1" y2="695.5" stroke-width="2.6" stroke="#2828EC"/><circle cx="285.1" cy="677.6" r="4.3" stroke="none"/><line x1="331.1" y1="664.5" x2="331.1" y2="704.4" stroke-width="2.6" stroke="#2828EC"/><circle cx="331.1" cy="685.9" r="4.3" stroke="none"/><line x1="377.2" y1="665.7" x2="377.2" y2="711.7" stroke-width="2.6" stroke="#2828EC"/><circle cx="377.2" cy="689.5" r="4.3" stroke="none"/><line x1="423.3" y1="645.4" x2="423.3" y2="688.5" stroke-width="2.6" stroke="#2828EC"/><circle cx="423.3" cy="667.1" r="4.3" stroke="none"/><line x1="469.4" y1="646.8" x2="469.4" y2="693.1" stroke-width="2.6" stroke="#2828EC"/><circle cx="469.4" cy="669.6" r="4.3" stroke="none"/><line x1="515.5" y1="655.7" x2="515.5" y2="685.5" stroke-width="2.6" stroke="#2828EC"/><circle cx="515.5" cy="669.6" r="4.3" stroke="none"/></g><g clip-path="url(#clipxd)" fill="#0000FF" stroke="#0000FF"><line x1="628.8" y1="648.6" x2="628.8" y2="679.4" stroke-width="2.6" stroke="#2828EC"/><circle cx="628.8" cy="663.9" r="4.3" stroke="none"/><line x1="642.6" y1="657.6" x2="642.6" y2="682.4" stroke-width="2.6" stroke="#2828EC"/><circle cx="642.6" cy="669.9" r="4.3" stroke="none"/><line x1="656.4" y1="653.6" x2="656.4" y2="681.4" stroke-width="2.6" stroke="#2828EC"/><circle cx="656.4" cy="667.5" r="4.3" stroke="none"/><line x1="670.2" y1="652.6" x2="670.2" y2="677.4" stroke-width="2.6" stroke="#2828EC"/><circle cx="670.2" cy="664.5" r="4.3" stroke="none"/><line x1="684.1" y1="648.6" x2="684.1" y2="679.4" stroke-width="2.6" stroke="#2828EC"/><circle cx="684.1" cy="663.9" r="4.3" stroke="none"/><line x1="697.9" y1="649.6" x2="697.9" y2="677.4" stroke-width="2.6" stroke="#2828EC"/><circle cx="697.9" cy="663.5" r="4.3" stroke="none"/><line x1="711.7" y1="643.7" x2="711.7" y2="673.5" stroke-width="2.6" stroke="#2828EC"/><circle cx="711.7" cy="659" r="4.3" stroke="none"/><line x1="725.5" y1="640.7" x2="725.5" y2="669.5" stroke-width="2.6" stroke="#2828EC"/><circle cx="725.5" cy="655" r="4.3" stroke="none"/><line x1="739.3" y1="650.6" x2="739.3" y2="676.5" stroke-width="2.6" stroke="#2828EC"/><circle cx="739.3" cy="663.1" r="4.3" stroke="none"/><line x1="753.1" y1="635.7" x2="753.1" y2="672.5" stroke-width="2.6" stroke="#2828EC"/><circle cx="753.1" cy="654.2" r="4.3" stroke="none"/><line x1="766.9" y1="641.7" x2="766.9" y2="676.5" stroke-width="2.6" stroke="#2828EC"/><circle cx="766.9" cy="659" r="4.3" stroke="none"/><line x1="780.7" y1="630.8" x2="780.7" y2="661.6" stroke-width="2.6" stroke="#2828EC"/><circle cx="780.7" cy="646.7" r="4.3" stroke="none"/><line x1="794.6" y1="641.3" x2="794.6" y2="671.5" stroke-width="2.6" stroke="#2828EC"/><circle cx="794.6" cy="657" r="4.3" stroke="none"/><line x1="808.4" y1="635.7" x2="808.4" y2="668.5" stroke-width="2.6" stroke="#2828EC"/><circle cx="808.4" cy="652" r="4.3" stroke="none"/><line x1="822.2" y1="637.7" x2="822.2" y2="670.5" stroke-width="2.6" stroke="#2828EC"/><circle cx="822.2" cy="654" r="4.3" stroke="none"/><line x1="836.0" y1="625.8" x2="836.0" y2="660.6" stroke-width="2.6" stroke="#2828EC"/><circle cx="836.0" cy="643.2" r="4.3" stroke="none"/><line x1="849.8" y1="612.7" x2="849.8" y2="645.5" stroke-width="2.6" stroke="#2828EC"/><circle cx="849.8" cy="629.3" r="4.3" stroke="none"/><line x1="863.6" y1="610.3" x2="863.6" y2="645.5" stroke-width="2.6" stroke="#2828EC"/><circle cx="863.6" cy="627.8" r="4.3" stroke="none"/><line x1="877.4" y1="605.5" x2="877.4" y2="648" stroke-width="2.6" stroke="#2828EC"/><circle cx="877.4" cy="626.8" r="4.3" stroke="none"/><line x1="891.3" y1="606.7" x2="891.3" y2="649.2" stroke-width="2.6" stroke="#2828EC"/><circle cx="891.3" cy="628.5" r="4.3" stroke="none"/><line x1="905.1" y1="593.3" x2="905.1" y2="632.2" stroke-width="2.6" stroke="#2828EC"/><circle cx="905.1" cy="612.7" r="4.3" stroke="none"/><line x1="918.9" y1="572.7" x2="918.9" y2="616.4" stroke-width="2.6" stroke="#2828EC"/><circle cx="918.9" cy="594.5" r="4.3" stroke="none"/><line x1="932.7" y1="560.5" x2="932.7" y2="606.7" stroke-width="2.6" stroke="#2828EC"/><circle cx="932.7" cy="583.6" r="4.3" stroke="none"/><line x1="946.5" y1="549.6" x2="946.5" y2="606.7" stroke-width="2.6" stroke="#2828EC"/><circle cx="946.5" cy="578" r="4.3" stroke="none"/><line x1="960.3" y1="549.6" x2="960.3" y2="601.8" stroke-width="2.6" stroke="#2828EC"/><circle cx="960.3" cy="575.1" r="4.3" stroke="none"/><line x1="974.1" y1="539.9" x2="974.1" y2="586" stroke-width="2.6" stroke="#2828EC"/><circle cx="974.1" cy="563" r="4.3" stroke="none"/><line x1="987.9" y1="533.8" x2="987.9" y2="584.8" stroke-width="2.6" stroke="#2828EC"/><circle cx="987.9" cy="559.3" r="4.3" stroke="none"/><line x1="1001.8" y1="512.7" x2="1001.8" y2="575.1" stroke-width="2.6" stroke="#2828EC"/><circle cx="1001.8" cy="544.2" r="4.3" stroke="none"/><line x1="1015.6" y1="522.4" x2="1015.6" y2="578.7" stroke-width="2.6" stroke="#2828EC"/><circle cx="1015.6" cy="550.8" r="4.3" stroke="none"/><line x1="1029.4" y1="490.8" x2="1029.4" y2="556.9" stroke-width="2.6" stroke="#2828EC"/><circle cx="1029.4" cy="524.1" r="4.3" stroke="none"/><line x1="1043.2" y1="464.6" x2="1043.2" y2="531.4" stroke-width="2.6" stroke="#2828EC"/><circle cx="1043.2" cy="494.9" r="4.3" stroke="none"/></g><line x1="100.6" y1="229.75" x2="1043" y2="229.75" stroke="#383838" stroke-width="2.5" stroke-dasharray="5.6 6.47"/><line x1="100.6" y1="664.7" x2="1043" y2="664.7" stroke="#383838" stroke-width="2.5" stroke-dasharray="5.6 6.47"/><g font-family="Liberation Serif, serif" fill="#000" stroke="#000" stroke-width="0.05"><text transform="translate(95.0,327.1) scale(1,1.05)" text-anchor="end" font-size="26" >0.35</text><text transform="translate(95.0,262.7) scale(1,1.05)" text-anchor="end" font-size="26" >0.40</text><text transform="translate(95.0,198.3) scale(1,1.05)" text-anchor="end" font-size="26" >0.45</text><text transform="translate(95.0,133.9) scale(1,1.05)" text-anchor="end" font-size="26" >0.50</text><text transform="translate(95.0,69.5) scale(1,1.05)" text-anchor="end" font-size="26" >0.55</text><text transform="translate(100.7,376.9) scale(1,1.03)" text-anchor="middle" font-size="23.6" >0.0</text><text transform="translate(192.9,376.9) scale(1,1.03)" text-anchor="middle" font-size="23.6" >0.2</text><text transform="translate(285.1,376.9) scale(1,1.03)" text-anchor="middle" font-size="23.6" >0.4</text><text transform="translate(377.2,376.9) scale(1,1.03)" text-anchor="middle" font-size="23.6" >0.6</text><text transform="translate(469.4,376.9) scale(1,1.03)" text-anchor="middle" font-size="23.6" >0.8</text><text transform="translate(623.1,327.1) scale(1,1.05)" text-anchor="end" font-size="26" >0.35</text><text transform="translate(623.1,262.7) scale(1,1.05)" text-anchor="end" font-size="26" >0.40</text><text transform="translate(623.1,198.3) scale(1,1.05)" text-anchor="end" font-size="26" >0.45</text><text transform="translate(623.1,133.9) scale(1,1.05)" text-anchor="end" font-size="26" >0.50</text><text transform="translate(623.1,69.5) scale(1,1.05)" text-anchor="end" font-size="26" >0.55</text><text transform="translate(628.8,378.5) scale(1,1.05)" text-anchor="middle" font-size="26" >0.0</text><text transform="translate(766.9,378.5) scale(1,1.05)" text-anchor="middle" font-size="26" >0.1</text><text transform="translate(905.1,378.5) scale(1,1.05)" text-anchor="middle" font-size="26" >0.2</text><text transform="translate(1043.2,378.5) scale(1,1.05)" text-anchor="middle" font-size="26" >0.3</text><text transform="translate(95.0,758.2) scale(1,1.05)" text-anchor="end" font-size="26" >0.3</text><text transform="translate(95.0,686.2) scale(1,1.05)" text-anchor="end" font-size="26" >0.4</text><text transform="translate(95.0,614.2) scale(1,1.05)" text-anchor="end" font-size="26" >0.5</text><text transform="translate(95.0,542.2) scale(1,1.05)" text-anchor="end" font-size="26" >0.6</text><text transform="translate(95.0,470.2) scale(1,1.05)" text-anchor="end" font-size="26" >0.7</text><text transform="translate(100.7,777.3) scale(1,1.05)" text-anchor="middle" font-size="26" >0.0</text><text transform="translate(192.9,777.3) scale(1,1.05)" text-anchor="middle" font-size="26" >0.2</text><text transform="translate(285.1,777.3) scale(1,1.05)" text-anchor="middle" font-size="26" >0.4</text><text transform="translate(377.2,777.3) scale(1,1.05)" text-anchor="middle" font-size="26" >0.6</text><text transform="translate(469.4,777.3) scale(1,1.05)" text-anchor="middle" font-size="26" >0.8</text><text transform="translate(623.1,758.2) scale(1,1.05)" text-anchor="end" font-size="26" >0.3</text><text transform="translate(623.1,686.2) scale(1,1.05)" text-anchor="end" font-size="26" >0.4</text><text transform="translate(623.1,614.2) scale(1,1.05)" text-anchor="end" font-size="26" >0.5</text><text transform="translate(623.1,542.2) scale(1,1.05)" text-anchor="end" font-size="26" >0.6</text><text transform="translate(623.1,470.2) scale(1,1.05)" text-anchor="end" font-size="26" >0.7</text><text transform="translate(628.8,777.3) scale(1,1.05)" text-anchor="middle" font-size="26" >0.0</text><text transform="translate(766.9,777.3) scale(1,1.05)" text-anchor="middle" font-size="26" >0.1</text><text transform="translate(905.1,777.3) scale(1,1.05)" text-anchor="middle" font-size="26" >0.2</text><text transform="translate(1043.2,777.3) scale(1,1.05)" text-anchor="middle" font-size="26" >0.3</text><text transform="translate(308.8,407.3) scale(1,1.04)" text-anchor="middle" font-size="30" >W</text><text x="834.2" y="410.0" text-anchor="middle" font-size="28" >g</text><text transform="translate(308.0,812.8) scale(1,1.07)" text-anchor="middle" font-size="30.5" >W</text><text x="835.9" y="806.6" text-anchor="middle" font-size="28" >g</text><text x="121.7" y="72.7" text-anchor="start" font-size="30" >(a)</text><text x="649.3" y="72.7" text-anchor="start" font-size="30" >(b)</text><text x="121.7" y="471.2" text-anchor="start" font-size="30" >(c)</text><text x="649.3" y="471.2" text-anchor="start" font-size="30" >(d)</text><text x="208.6" y="64.8" font-size="21.5" stroke-width="0.55" textLength="189.7" lengthAdjust="spacingAndGlyphs">π-flux square lattice</text><text x="228.7" y="119.0" font-size="21.5" stroke-width="0.55" textLength="154.7" lengthAdjust="spacingAndGlyphs">random hopping</text><text x="735.6" y="60.8" font-size="21.5" stroke-width="0.55" textLength="189.6" lengthAdjust="spacingAndGlyphs">π-flux square lattice</text><text x="775.9" y="112.5" font-size="21.5" stroke-width="0.55" textLength="115.2" lengthAdjust="spacingAndGlyphs">random flux</text><text x="216.7" y="459.8" font-size="21.5" stroke-width="0.55" textLength="174.6" lengthAdjust="spacingAndGlyphs">honeycomb lattice</text><text x="229.6" y="513.2" font-size="21.5" stroke-width="0.55" textLength="155.5" lengthAdjust="spacingAndGlyphs">random hopping</text><text x="752.2" y="459.8" font-size="21.5" stroke-width="0.55" textLength="174.1" lengthAdjust="spacingAndGlyphs">honeycomb lattice</text><text x="784.2" y="512.0" font-size="21.5" stroke-width="0.55" textLength="116.2" lengthAdjust="spacingAndGlyphs">random flux</text></g><path d="M300.0,85.3h13" stroke="#000" stroke-width="2.3" fill="none"/><path d="M306.6,78.3v14" stroke="#111" stroke-width="1.5" fill="none"/><path d="M826.8,79.1h13" stroke="#000" stroke-width="2.3" fill="none"/><path d="M833.4,72.1v14" stroke="#111" stroke-width="1.5" fill="none"/><path d="M300.2,479.8h13" stroke="#000" stroke-width="2.3" fill="none"/><path d="M306.8,472.8v14" stroke="#111" stroke-width="1.5" fill="none"/><path d="M836.6,479.8h13" stroke="#000" stroke-width="2.3" fill="none"/><path d="M843.2,472.8v14" stroke="#111" stroke-width="1.5" fill="none"/><g transform="translate(13.5,176.5)" fill="none" stroke="#000" stroke-linecap="round" stroke-linejoin="round"><path d="M0.3,0.8 L0,9.8" stroke-width="2.2"/><path d="M0,9.8 L-0.2,15" stroke-width="1.4"/><path d="M-0.3,9.3 C3,10 7,11.2 10.6,11.5 C14,11.9 17.5,12.1 19.9,12.6 C22.5,13.2 24.5,14.5 25.8,16.3 C27,18 27.3,20.5 26.8,22.5 L25.8,24.3" stroke-width="2.3"/><path d="M10.3,3.8 L10.3,14.2" stroke-width="1.5" stroke="#333"/><path d="M-0.2,14.8 C1,16.5 2.5,18 4.6,19 C5.8,19.6 7,20.5 8,21.3" stroke-width="1.6"/><ellipse cx="0.9" cy="1.6" rx="1.6" ry="2.3" fill="#000" stroke="none"/><ellipse cx="25.5" cy="24.2" rx="1.9" ry="2.1" fill="#000" stroke="none"/><ellipse cx="1.2" cy="9.9" rx="1.9" ry="1.6" fill="#000" stroke="none"/><ellipse cx="10.8" cy="11.8" rx="2" ry="1.6" fill="#000" stroke="none"/></g><g transform="translate(541.9,176)" fill="none" stroke="#000" stroke-linecap="round" stroke-linejoin="round"><path d="M0.3,0.8 L0,9.8" stroke-width="2.2"/><path d="M0,9.8 L-0.2,15" stroke-width="1.4"/><path d="M-0.3,9.3 C3,10 7,11.2 10.6,11.5 C14,11.9 17.5,12.1 19.9,12.6 C22.5,13.2 24.5,14.5 25.8,16.3 C27,18 27.3,20.5 26.8,22.5 L25.8,24.3" stroke-width="2.3"/><path d="M10.3,3.8 L10.3,14.2" stroke-width="1.5" stroke="#333"/><path d="M-0.2,14.8 C1,16.5 2.5,18 4.6,19 C5.8,19.6 7,20.5 8,21.3" stroke-width="1.6"/><ellipse cx="0.9" cy="1.6" rx="1.6" ry="2.3" fill="#000" stroke="none"/><ellipse cx="25.5" cy="24.2" rx="1.9" ry="2.1" fill="#000" stroke="none"/><ellipse cx="1.2" cy="9.9" rx="1.9" ry="1.6" fill="#000" stroke="none"/><ellipse cx="10.8" cy="11.8" rx="2" ry="1.6" fill="#000" stroke="none"/></g><g transform="translate(28.4,574.7)" fill="none" stroke="#000" stroke-linecap="round" stroke-linejoin="round"><path d="M0.3,0.8 L0,9.8" stroke-width="2.2"/><path d="M0,9.8 L-0.2,15" stroke-width="1.4"/><path d="M-0.3,9.3 C3,10 7,11.2 10.6,11.5 C14,11.9 17.5,12.1 19.9,12.6 C22.5,13.2 24.5,14.5 25.8,16.3 C27,18 27.3,20.5 26.8,22.5 L25.8,24.3" stroke-width="2.3"/><path d="M10.3,3.8 L10.3,14.2" stroke-width="1.5" stroke="#333"/><path d="M-0.2,14.8 C1,16.5 2.5,18 4.6,19 C5.8,19.6 7,20.5 8,21.3" stroke-width="1.6"/><ellipse cx="0.9" cy="1.6" rx="1.6" ry="2.3" fill="#000" stroke="none"/><ellipse cx="25.5" cy="24.2" rx="1.9" ry="2.1" fill="#000" stroke="none"/><ellipse cx="1.2" cy="9.9" rx="1.9" ry="1.6" fill="#000" stroke="none"/><ellipse cx="10.8" cy="11.8" rx="2" ry="1.6" fill="#000" stroke="none"/></g><g transform="translate(554.7,574.7)" fill="none" stroke="#000" stroke-linecap="round" stroke-linejoin="round"><path d="M0.3,0.8 L0,9.8" stroke-width="2.2"/><path d="M0,9.8 L-0.2,15" stroke-width="1.4"/><path d="M-0.3,9.3 C3,10 7,11.2 10.6,11.5 C14,11.9 17.5,12.1 19.9,12.6 C22.5,13.2 24.5,14.5 25.8,16.3 C27,18 27.3,20.5 26.8,22.5 L25.8,24.3" stroke-width="2.3"/><path d="M10.3,3.8 L10.3,14.2" stroke-width="1.5" stroke="#333"/><path d="M-0.2,14.8 C1,16.5 2.5,18 4.6,19 C5.8,19.6 7,20.5 8,21.3" stroke-width="1.6"/><ellipse cx="0.9" cy="1.6" rx="1.6" ry="2.3" fill="#000" stroke="none"/><ellipse cx="25.5" cy="24.2" rx="1.9" ry="2.1" fill="#000" stroke="none"/><ellipse cx="1.2" cy="9.9" rx="1.9" ry="1.6" fill="#000" stroke="none"/><ellipse cx="10.8" cy="11.8" rx="2" ry="1.6" fill="#000" stroke="none"/></g></g></svg></div>
</body></html>
